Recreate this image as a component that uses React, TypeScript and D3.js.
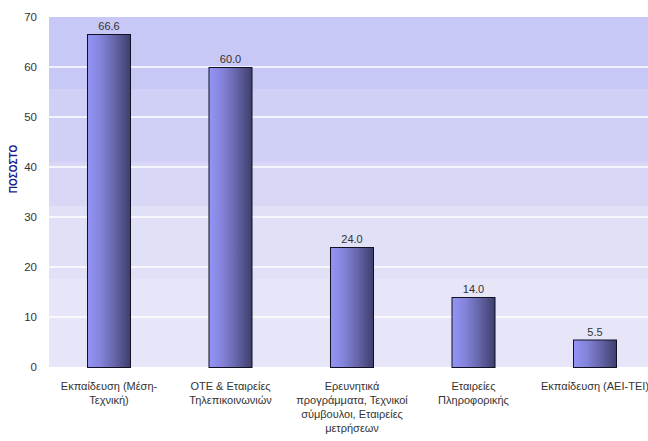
import React from "react";
import * as d3 from "d3";

const categories = [
  ["Εκπαίδευση (Μέση-", "Τεχνική)"],
  ["ΟΤΕ & Εταιρείες", "Τηλεπικοινωνιών"],
  ["Ερευνητικά", "προγράμματα, Τεχνικοί", "σύμβουλοι, Εταιρείες", "μετρήσεων"],
  ["Εταιρείες", "Πληροφορικής"],
  ["Εκπαίδευση (ΑΕΙ-ΤΕΙ)"],
];
const values = [66.6, 60.0, 24.0, 14.0, 5.5];
const yTicks = [0, 10, 20, 30, 40, 50, 60, 70];
const yTitle = "ΠΟΣΟΣΤΟ";
const bandStops = [70, 55.6, 41, 32.2, 17.6, 0];
const bandColors = ["#c8c8f6", "#d0d0f6", "#d8d8f6", "#e0e0f7", "#e6e6f8"];

const W = 648, H = 441;
const left = 49, right = 648, top = 17, bottom = 367;

export default function App() {
  const y = d3.scaleLinear().domain([0, 70]).range([bottom, top]);
  const x = d3
    .scaleBand<number>()
    .domain(d3.range(values.length))
    .range([47.75, 655.25])
    .paddingInner(0.646)
    .paddingOuter(0.323);
  const font = "'Liberation Sans', Arial, sans-serif";
  return (
    <svg width={W} height={H} style={{ position: "absolute", left: 0, top: 0 }}>
      <defs>
        <linearGradient id="barGrad" x1="0" x2="1" y1="0" y2="0">
          <stop offset="0" stopColor="#9494f6" />
          <stop offset="0.3" stopColor="#8484dc" />
          <stop offset="0.6" stopColor="#6868ae" />
          <stop offset="1" stopColor="#3e3e6c" />
        </linearGradient>
      </defs>
      <rect x={0} y={0} width={W} height={H} fill="#ffffff" />
      {bandColors.map((c, i) => (
        <rect
          key={i}
          x={left}
          y={y(bandStops[i])}
          width={right - left}
          height={y(bandStops[i + 1]) - y(bandStops[i])}
          fill={c}
        />
      ))}
      {yTicks.slice(1, -1).map((t) => (
        <line
          key={t}
          x1={left}
          x2={right}
          y1={y(t)}
          y2={y(t)}
          stroke="#ffffff"
          strokeWidth={1.5}
        />
      ))}
      {yTicks.map((t) => (
        <text
          key={t}
          x={37}
          y={y(t) + 4}
          textAnchor="end"
          fontFamily={font}
          fontSize={11.5}
          fill="#333333"
        >
          {t}
        </text>
      ))}
      <text
        transform={`translate(17,169) rotate(-90)`}
        textAnchor="middle"
        fontFamily={font}
        fontSize={10}
        fontWeight="bold"
        fill="#1c1c90"
      >
        {yTitle}
      </text>
      {values.map((v, i) => {
        const bx = x(i)!;
        const bw = x.bandwidth();
        return (
          <g key={i}>
            <rect
              x={bx + 0.5}
              y={y(v) + 0.5}
              width={bw}
              height={y(0) - y(v)}
              fill="url(#barGrad)"
              stroke="#111122"
              strokeWidth={1}
            />
            <text
              x={bx + bw / 2 + 0.5}
              y={y(v) - 4}
              textAnchor="middle"
              fontFamily={font}
              fontSize={11}
              fill="#333333"
            >
              {v.toFixed(1)}
            </text>
            {categories[i].map((line, j) => (
              <text
                key={j}
                x={bx + bw / 2 + 0.5}
                y={390 + j * 14}
                textAnchor="middle"
                fontFamily={font}
                fontSize={11}
                fill="#333333"
              >
                {line}
              </text>
            ))}
          </g>
        );
      })}
    </svg>
  );
}
